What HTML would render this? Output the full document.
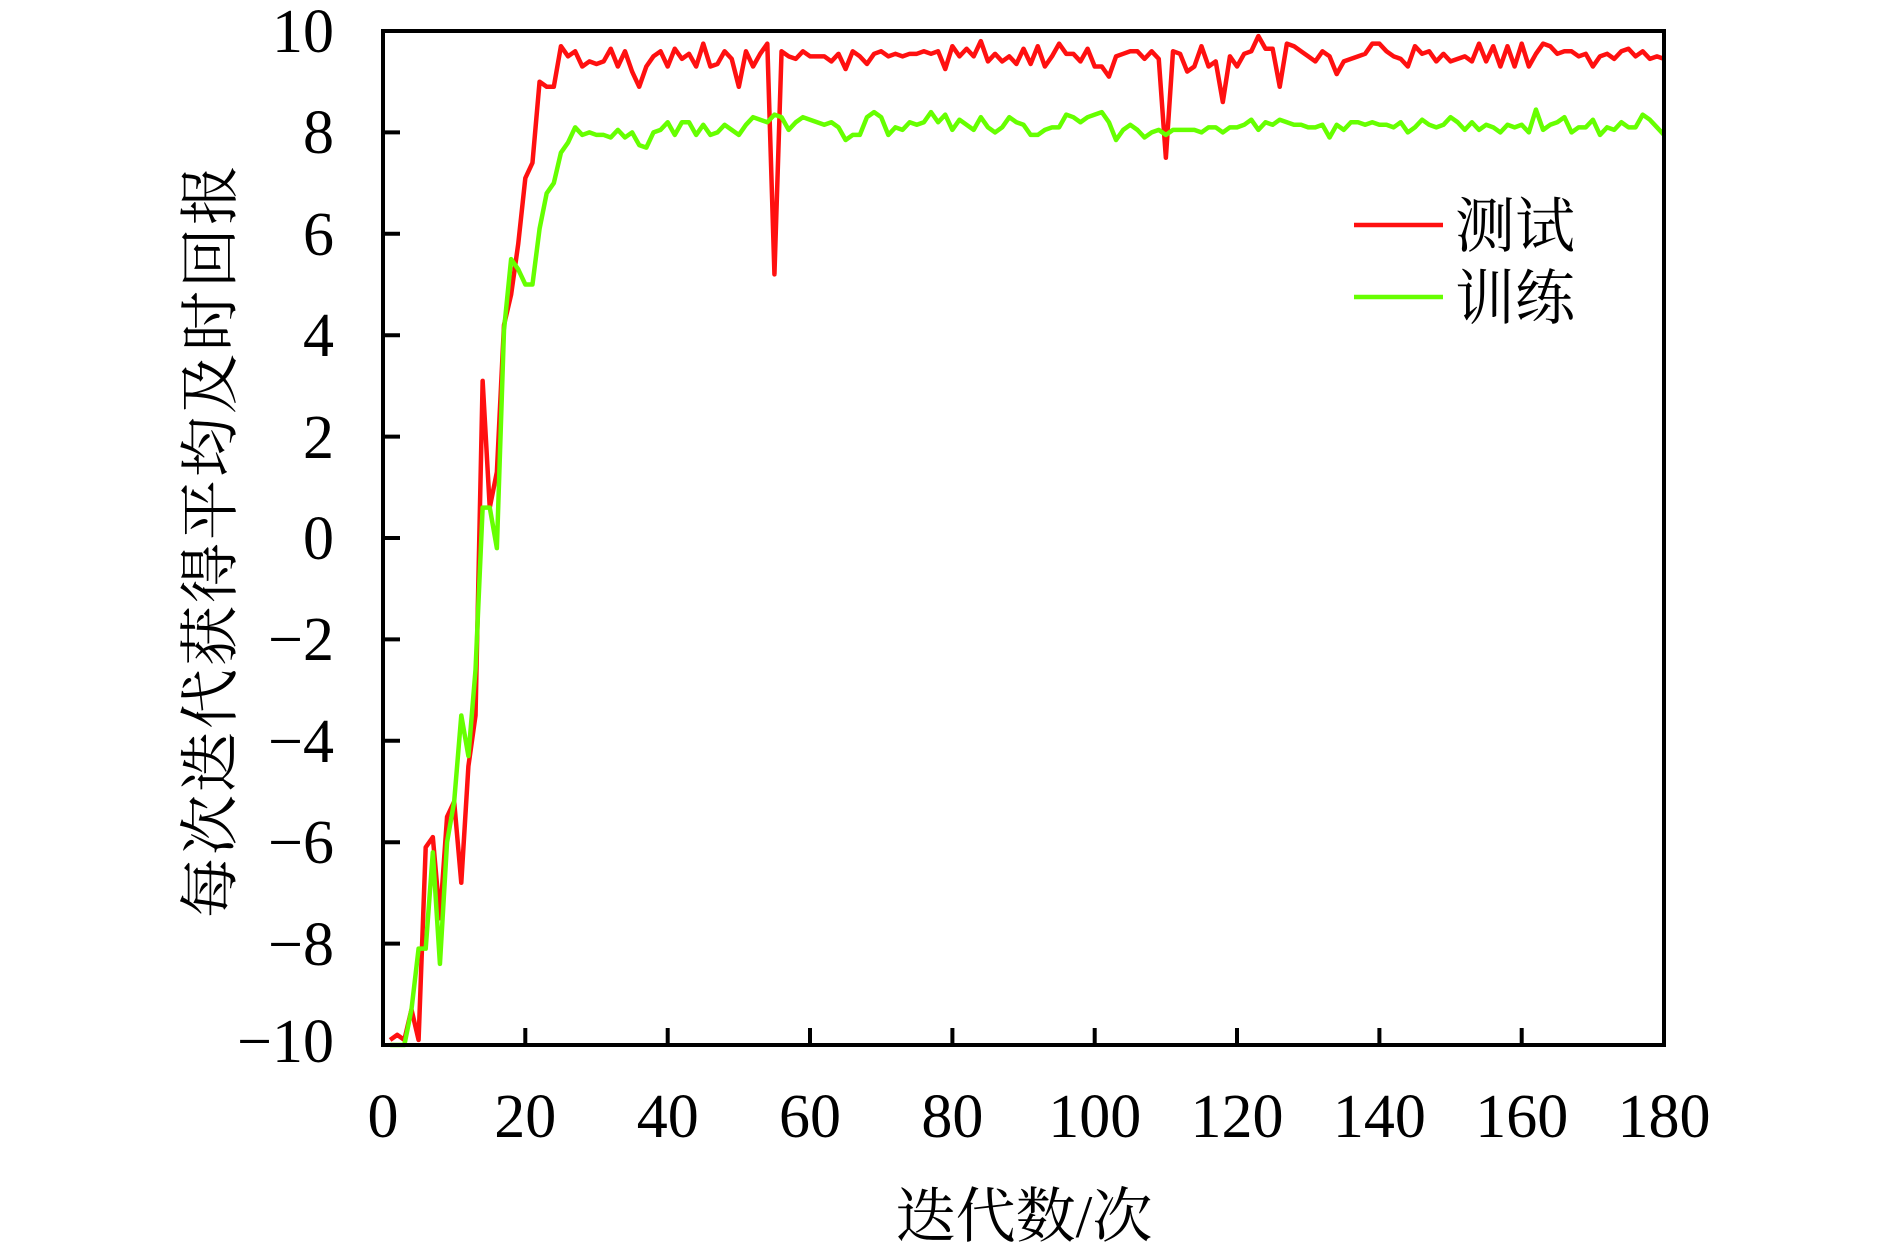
<!DOCTYPE html>
<html><head><meta charset="utf-8"><style>html,body{margin:0;padding:0;background:#fff}svg{display:block}</style></head>
<body>
<svg width="1890" height="1257" viewBox="0 0 1890 1257" xmlns="http://www.w3.org/2000/svg">
<rect width="1890" height="1257" fill="#fff"/>
<g transform="translate(383,1045) scale(7.117,-50.7) translate(0,10)" fill="none" stroke-linejoin="round">
<polyline vector-effect="non-scaling-stroke" stroke="#ff1010" stroke-width="4.5" points="1,-9.9 2,-9.8 3,-9.9 4,-9.3 5,-9.9 6,-6.1 7,-5.9 8,-7.5 9,-5.5 10,-5.2 11,-6.8 12,-4.5 13,-3.5 14,3.1 15,0.6 16,1.3 17,4.2 18,4.8 19,5.8 20,7.1 21,7.4 22,9.0 23,8.9 24,8.9 25,9.7 26,9.5 27,9.6 28,9.3 29,9.4 30,9.35 31,9.4 32,9.65 33,9.3 34,9.6 35,9.2 36,8.9 37,9.3 38,9.5 39,9.6 40,9.3 41,9.65 42,9.45 43,9.55 44,9.3 45,9.75 46,9.3 47,9.35 48,9.6 49,9.45 50,8.9 51,9.6 52,9.3 53,9.55 54,9.75 55,5.2 56,9.6 57,9.5 58,9.45 59,9.6 60,9.5 61,9.5 62,9.5 63,9.4 64,9.55 65,9.25 66,9.6 67,9.5 68,9.35 69,9.55 70,9.6 71,9.5 72,9.55 73,9.5 74,9.55 75,9.55 76,9.6 77,9.55 78,9.6 79,9.25 80,9.7 81,9.5 82,9.65 83,9.5 84,9.8 85,9.4 86,9.55 87,9.4 88,9.5 89,9.35 90,9.65 91,9.35 92,9.7 93,9.3 94,9.5 95,9.75 96,9.55 97,9.55 98,9.4 99,9.65 100,9.3 101,9.3 102,9.1 103,9.5 104,9.55 105,9.6 106,9.6 107,9.45 108,9.6 109,9.45 110,7.5 111,9.6 112,9.55 113,9.2 114,9.3 115,9.7 116,9.3 117,9.4 118,8.6 119,9.5 120,9.3 121,9.55 122,9.6 123,9.9 124,9.65 125,9.65 126,8.9 127,9.75 128,9.7 129,9.6 130,9.5 131,9.4 132,9.6 133,9.5 134,9.15 135,9.4 136,9.45 137,9.5 138,9.55 139,9.75 140,9.75 141,9.6 142,9.5 143,9.45 144,9.3 145,9.7 146,9.55 147,9.6 148,9.4 149,9.55 150,9.4 151,9.45 152,9.5 153,9.4 154,9.75 155,9.4 156,9.7 157,9.3 158,9.7 159,9.3 160,9.75 161,9.3 162,9.55 163,9.75 164,9.7 165,9.55 166,9.6 167,9.6 168,9.5 169,9.55 170,9.3 171,9.5 172,9.55 173,9.45 174,9.6 175,9.65 176,9.5 177,9.6 178,9.45 179,9.5 180,9.45"/>
<polyline vector-effect="non-scaling-stroke" stroke="#66ff00" stroke-width="4.5" points="1,-10 2,-10 3,-10 4,-9.3 5,-8.1 6,-8.1 7,-6.2 8,-8.4 9,-6 10,-5.2 11,-3.5 12,-4.3 13,-2.6 14,0.6 15,0.6 16,-0.2 17,4.1 18,5.5 19,5.3 20,5.0 21,5.0 22,6.1 23,6.8 24,7.0 25,7.6 26,7.8 27,8.1 28,7.95 29,8.0 30,7.95 31,7.95 32,7.9 33,8.05 34,7.9 35,8.0 36,7.75 37,7.7 38,8.0 39,8.05 40,8.2 41,7.95 42,8.2 43,8.2 44,7.95 45,8.15 46,7.95 47,8.0 48,8.15 49,8.05 50,7.95 51,8.15 52,8.3 53,8.25 54,8.2 55,8.35 56,8.3 57,8.05 58,8.2 59,8.3 60,8.25 61,8.2 62,8.15 63,8.2 64,8.1 65,7.85 66,7.95 67,7.95 68,8.3 69,8.4 70,8.3 71,7.95 72,8.1 73,8.05 74,8.2 75,8.15 76,8.2 77,8.4 78,8.2 79,8.35 80,8.05 81,8.25 82,8.15 83,8.05 84,8.3 85,8.1 86,8.0 87,8.1 88,8.3 89,8.2 90,8.15 91,7.95 92,7.95 93,8.05 94,8.1 95,8.1 96,8.35 97,8.3 98,8.2 99,8.3 100,8.35 101,8.4 102,8.2 103,7.85 104,8.05 105,8.15 106,8.05 107,7.9 108,8.0 109,8.05 110,7.95 111,8.05 112,8.05 113,8.05 114,8.05 115,8.0 116,8.1 117,8.1 118,8.0 119,8.1 120,8.1 121,8.15 122,8.25 123,8.05 124,8.2 125,8.15 126,8.25 127,8.2 128,8.15 129,8.15 130,8.1 131,8.1 132,8.15 133,7.9 134,8.15 135,8.05 136,8.2 137,8.2 138,8.15 139,8.2 140,8.15 141,8.15 142,8.1 143,8.2 144,8.0 145,8.1 146,8.25 147,8.15 148,8.1 149,8.15 150,8.3 151,8.2 152,8.05 153,8.2 154,8.05 155,8.15 156,8.1 157,8.0 158,8.15 159,8.1 160,8.15 161,8.0 162,8.45 163,8.05 164,8.15 165,8.2 166,8.3 167,8.0 168,8.1 169,8.1 170,8.25 171,7.95 172,8.1 173,8.05 174,8.2 175,8.1 176,8.1 177,8.35 178,8.25 179,8.1 180,7.95"/>
</g>
<rect x="383" y="31" width="1281" height="1014" fill="none" stroke="#000" stroke-width="4"/>
<g stroke="#000" stroke-width="4">
<line x1="383" y1="132.4" x2="400" y2="132.4"/><line x1="383" y1="233.8" x2="400" y2="233.8"/><line x1="383" y1="335.2" x2="400" y2="335.2"/><line x1="383" y1="436.6" x2="400" y2="436.6"/><line x1="383" y1="538" x2="400" y2="538"/><line x1="383" y1="639.4" x2="400" y2="639.4"/><line x1="383" y1="740.8" x2="400" y2="740.8"/><line x1="383" y1="842.2" x2="400" y2="842.2"/><line x1="383" y1="943.6" x2="400" y2="943.6"/>
<line x1="525.3" y1="1045" x2="525.3" y2="1028"/><line x1="667.7" y1="1045" x2="667.7" y2="1028"/><line x1="810" y1="1045" x2="810" y2="1028"/><line x1="952.4" y1="1045" x2="952.4" y2="1028"/><line x1="1094.7" y1="1045" x2="1094.7" y2="1028"/><line x1="1237" y1="1045" x2="1237" y2="1028"/><line x1="1379.4" y1="1045" x2="1379.4" y2="1028"/><line x1="1521.7" y1="1045" x2="1521.7" y2="1028"/>
</g>
<g font-family="'Liberation Serif', serif" font-size="62" fill="#000" text-anchor="end">
<text x="334" y="52">10</text><text x="334" y="153">8</text><text x="334" y="255">6</text><text x="334" y="356">4</text><text x="334" y="458">2</text><text x="334" y="559">0</text><text x="334" y="660">−2</text><text x="334" y="762">−4</text><text x="334" y="863">−6</text><text x="334" y="965">−8</text><text x="334" y="1062">−10</text>
</g>
<g font-family="'Liberation Serif', serif" font-size="62" fill="#000" text-anchor="middle">
<text x="383" y="1137">0</text><text x="525.3" y="1137">20</text><text x="667.7" y="1137">40</text><text x="810" y="1137">60</text><text x="952.4" y="1137">80</text><text x="1094.7" y="1137">100</text><text x="1237" y="1137">120</text><text x="1379.4" y="1137">140</text><text x="1521.7" y="1137">160</text><text x="1664" y="1137">180</text>
</g>
<text x="1024" y="1237" font-family="'Liberation Serif','Noto Serif CJK SC',serif" font-size="60" text-anchor="middle">迭代数/次</text>
<text transform="translate(231,540) rotate(-90)" x="0" y="0" font-family="'Liberation Serif','Noto Serif CJK SC',serif" font-size="60" letter-spacing="3" text-anchor="middle">每次迭代获得平均及时回报</text>
<line x1="1354" y1="225" x2="1443" y2="225" stroke="#ff1010" stroke-width="4.5"/>
<line x1="1354" y1="297" x2="1443" y2="297" stroke="#66ff00" stroke-width="4.5"/>
<text x="1455" y="247" font-family="'Liberation Serif','Noto Serif CJK SC',serif" font-size="60">测试</text>
<text x="1455" y="319" font-family="'Liberation Serif','Noto Serif CJK SC',serif" font-size="60">训练</text>
</svg>
</body></html>
